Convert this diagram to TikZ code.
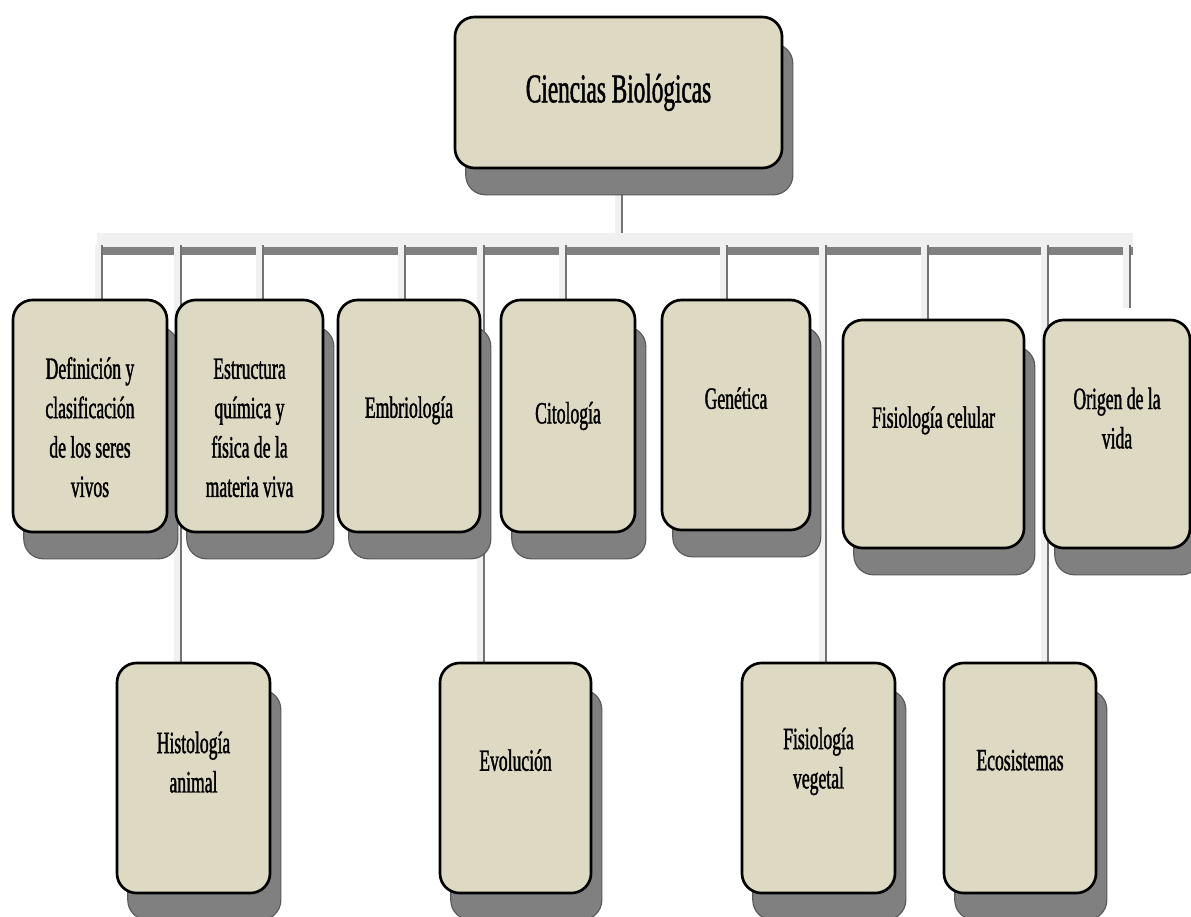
\documentclass[tikz,border=0pt]{standalone}
\usepackage{fontspec}
\setmainfont{Liberation Serif}[FakeStretch=0.57, FakeBold=1.2]
\usetikzlibrary{shadows,backgrounds}
\definecolor{beige}{RGB}{221,217,195}
\definecolor{sombra}{RGB}{128,128,128}
\newcommand{\bajo}[1]{\rule[-#1]{0pt}{#1}}
\newcommand{\alto}[1]{\rule{0pt}{#1}}
\tikzset{
  caja/.style={draw=black, line width=1.9pt, fill=beige, rounded corners=14pt,
    align=center, inner sep=2pt, minimum height=5.8cm,
    font=\fontsize{22}{28}\selectfont,
    drop shadow={shadow xshift=0.27cm, shadow yshift=-0.67cm, fill=sombra,
      draw=black!65, line width=0.8pt, opacity=1}},
  claro/.style={line width=0.15cm, color=black!6},
  oscuro/.style={line width=0.05cm, color=black!55}
}
\begin{document}
\begin{tikzpicture}[x=0.025cm, y=-0.025cm]
\useasboundingbox (0,0) rectangle (1191,916);
\clip (0,0) rectangle (1191,916);
% raiz
\node[caja, minimum width=8.175cm, minimum height=3.775cm,
  font=\fontsize{29}{34}\selectfont] (raiz) at (618.5,92.5) {Ciencias Biológicas\bajo{0.15cm}};
% primera fila
\node[caja, minimum width=3.85cm] (def) at (90,416)
  {\alto{1.1cm}Definición y\\clasificación\\de los seres\\vivos};
\node[caja, minimum width=3.675cm] (estr) at (249.5,416)
  {\alto{1.1cm}Estructura\\química y\\física de la\\materia viva};
\node[caja, minimum width=3.55cm] (embr) at (409,416) {Embriología\bajo{0.45cm}};
\node[caja, minimum width=3.35cm] (cito) at (568,416) {Citología};
\node[caja, minimum width=3.7cm, minimum height=5.75cm] (gene) at (736,415) {Genética\bajo{0.85cm}};
\node[caja, minimum width=4.525cm, minimum height=5.7cm] (fcel) at (933.5,434) {Fisiología celular\bajo{0.85cm}};
\node[caja, minimum width=3.65cm, minimum height=5.7cm] (orig) at (1117,434) {Origen de la\\vida\bajo{0.8cm}};
% segunda fila
\node[caja, minimum width=3.825cm, minimum height=5.75cm] (hist) at (193.5,778) {Histología\\animal\bajo{0.8cm}};
\node[caja, minimum width=3.775cm, minimum height=5.75cm] (evol) at (515.5,778) {Evolución\bajo{0.9cm}};
\node[caja, minimum width=3.825cm, minimum height=5.75cm] (fveg) at (818.5,778) {Fisiología\\vegetal\bajo{1cm}};
\node[caja, minimum width=3.8cm, minimum height=5.75cm] (ecos) at (1020,778) {Ecosistemas\bajo{0.9cm}};
% conectores
\coordinate (b0) at (97,240);
\coordinate (b1) at (1133,240);
\coordinate (tallo) at (622,240);
\coordinate (forig) at (1130,308);
\begin{pgfonlayer}{background}
\draw[line width=0.2cm, color=black!50] ([yshift=-0.275cm]b0) -- ([yshift=-0.275cm]b1);
\draw[line width=0.35cm, color=black!6] (b0) -- (b1);
\draw[claro] ([xshift=-0.1cm]raiz.south -| tallo) -- ([xshift=-0.1cm]tallo);
\draw[oscuro] (raiz.south -| tallo) -- ([yshift=0.175cm]tallo);
\foreach \n/\x in {def/102, estr/263, embr/405, cito/566, gene/727, fcel/928,
    hist/181, evol/484, fveg/826, ecos/1048}{
  \coordinate (p\n) at (\x,245);
  \draw[claro] ([xshift=-0.1cm]p\n) -- ([xshift=-0.1cm]p\n |- \n.north);
  \draw[oscuro] (p\n) -- (p\n |- \n.north);
}
\coordinate (porig) at (1130,245);
\draw[claro] ([xshift=-0.1cm]porig) -- ([xshift=-0.1cm]forig);
\draw[oscuro] (porig) -- (forig);
\end{pgfonlayer}
\end{tikzpicture}
\end{document}
